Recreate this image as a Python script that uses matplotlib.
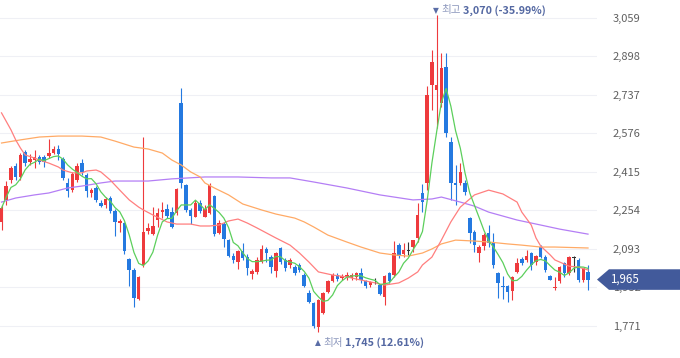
import numpy as np
import pandas as pd
import matplotlib
matplotlib.use("Agg")
import matplotlib.pyplot as plt
from matplotlib.patches import Polygon

plt.rcParams['font.family'] = ['Noto Sans CJK KR', 'DejaVu Sans']

# daily candles (KRW)
opens = [2206, 2298, 2381, 2440, 2394, 2498, 2457, 2465, 2477, 2477,
         2482, 2494, 2511, 2469, 2369, 2339, 2381, 2452, 2402, 2327,
         2348, 2285, 2277, 2306, 2252, 2201, 2201, 2051, 2005, 1883,
         2026, 2168, 2155, 2214, 2247, 2260, 2247, 2243, 2703, 2360,
         2256, 2227, 2285, 2227, 2243, 2314, 2160, 2197, 2130, 2063,
         2038, 2084, 2059, 1988, 1997, 2038, 2093, 2059, 2001, 2097,
         2047, 2026, 2017, 2026, 1984, 1909, 1867, 1767, 1825, 1913,
         1959, 1984, 1971, 1976, 1971, 1976, 1992, 1959, 1942, 1959,
         1942, 1892, 1992, 1984, 2109, 2072, 2088, 2101, 2139, 2327,
         2369, 2779, 2758, 2703, 2854, 2540, 2369, 2369, 2369, 2222,
         2164, 2076, 2105, 2160, 2118, 1992, 1938, 1938, 1917, 1997,
         2051, 2047, 2076, 2038, 2101, 2059, 1980, 1930, 1959, 2034,
         1992, 2059, 2047, 1963, 1997]
highs = [2277, 2377, 2440, 2452, 2494, 2507, 2490, 2507, 2486, 2486,
         2553, 2523, 2528, 2477, 2390, 2415, 2452, 2469, 2411, 2348,
         2356, 2298, 2310, 2314, 2260, 2218, 2206, 2055, 2013, 1980,
         2561, 2201, 2268, 2264, 2289, 2281, 2268, 2348, 2766, 2365,
         2264, 2298, 2298, 2277, 2369, 2319, 2214, 2206, 2135, 2076,
         2088, 2118, 2072, 2009, 2059, 2109, 2101, 2068, 2080, 2101,
         2055, 2055, 2026, 2034, 1992, 1921, 1871, 1883, 1913, 1963,
         1992, 1992, 1988, 1997, 1992, 1997, 2013, 1963, 1959, 1971,
         1946, 1984, 1997, 2126, 2118, 2118, 2122, 2122, 2285, 2365,
         2775, 2925, 3070, 2913, 2913, 2561, 2444, 2452, 2381, 2227,
         2172, 2109, 2160, 2193, 2160, 1997, 1980, 1942, 1980, 2055,
         2059, 2088, 2080, 2068, 2109, 2068, 1984, 1976, 2021, 2038,
         2063, 2063, 2055, 2005, 2026]
lows = [2172, 2277, 2369, 2381, 2381, 2440, 2444, 2431, 2448, 2436,
        2473, 2490, 2465, 2381, 2310, 2331, 2373, 2402, 2310, 2310,
        2289, 2268, 2264, 2243, 2147, 2164, 2072, 1938, 1850, 1879,
        2017, 2155, 2151, 2185, 2222, 2222, 2181, 2235, 2348, 2247,
        2197, 2227, 2243, 2227, 2239, 2147, 2155, 2101, 2059, 2034,
        2009, 2047, 1984, 1967, 1988, 2034, 2038, 1992, 1976, 2030,
        2001, 2013, 1984, 1997, 1934, 1867, 1762, 1745, 1821, 1909,
        1955, 1959, 1963, 1963, 1963, 1963, 1951, 1930, 1934, 1946,
        1900, 1858, 1951, 1976, 2055, 2059, 2068, 2080, 2122, 2247,
        2339, 2674, 2599, 2687, 2561, 2298, 2277, 2360, 2319, 2118,
        2080, 2038, 2088, 2101, 2013, 1888, 1883, 1871, 1879, 1992,
        2026, 2038, 2005, 2026, 2055, 1997, 1963, 1921, 1951, 1976,
        1984, 1997, 1955, 1955, 1921]
closes = [2264, 2356, 2431, 2394, 2486, 2452, 2469, 2477, 2457, 2457,
          2494, 2511, 2490, 2390, 2335, 2406, 2440, 2415, 2335, 2339,
          2298, 2272, 2302, 2252, 2206, 2210, 2084, 2005, 1888, 1976,
          2164, 2181, 2189, 2243, 2256, 2231, 2185, 2344, 2369, 2256,
          2231, 2285, 2252, 2260, 2360, 2155, 2201, 2135, 2063, 2047,
          2084, 2055, 2013, 2001, 2047, 2093, 2076, 2017, 2076, 2038,
          2013, 2047, 1992, 2005, 1938, 1871, 1771, 1879, 1909, 1959,
          1984, 1967, 1980, 1984, 1984, 1992, 1963, 1938, 1955, 1959,
          1904, 1980, 1959, 2076, 2063, 2088, 2088, 2130, 2235, 2289,
          2737, 2875, 2779, 2850, 2578, 2369, 2360, 2415, 2331, 2160,
          2109, 2101, 2151, 2118, 2026, 1951, 1934, 1913, 1976, 2034,
          2034, 2063, 2026, 2063, 2059, 2005, 1963, 1934, 2017, 1992,
          2059, 2059, 1963, 2013, 1965]

# longer moving averages (need history before the window), read at sample days
ma20_idx = [0, 2, 3, 4, 5, 7, 8, 10, 12, 13, 15, 17, 18, 20, 21, 23, 25, 27, 29, 30,
            32, 35, 37, 40, 42, 44, 46, 48, 50, 52, 54, 56, 58, 61, 63, 65, 67, 70, 73, 76,
            79, 81, 84, 86, 88, 89, 91, 93, 95, 97, 100, 103, 106, 109, 110, 112, 113, 114, 116, 117,
            120, 122, 124]
ma20_val = [2662, 2591, 2549, 2515, 2486, 2473, 2465, 2452, 2436, 2423, 2411, 2411, 2419, 2423, 2415, 2381, 2339, 2298, 2268, 2256,
            2235, 2206, 2197, 2197, 2189, 2189, 2193, 2210, 2218, 2201, 2181, 2160, 2139, 2109, 2076, 2038, 1997, 1984, 1976, 1963,
            1951, 1942, 1951, 1971, 1997, 2026, 2059, 2130, 2206, 2268, 2319, 2339, 2323, 2289, 2247, 2193, 2139, 2105, 2068, 2047,
            2021, 2017, 2005]
ma60_idx = [0, 4, 8, 12, 17, 21, 24, 28, 31, 34, 36, 38, 40, 42, 43, 45, 48, 51, 55, 58,
            62, 64, 66, 69, 73, 76, 80, 83, 86, 89, 91, 93, 96, 100, 103, 107, 110, 114, 117, 124]
ma60_val = [2536, 2549, 2561, 2565, 2565, 2561, 2544, 2519, 2511, 2494, 2465, 2444, 2415, 2394, 2369, 2348, 2319, 2281, 2256, 2239,
            2222, 2206, 2185, 2151, 2122, 2101, 2076, 2068, 2063, 2076, 2093, 2114, 2130, 2126, 2122, 2114, 2109, 2101, 2101, 2097]
ma120_idx = [0, 3, 7, 10, 14, 17, 21, 24, 31, 36, 43, 50, 57, 61, 66, 73, 80, 87, 91, 93,
             97, 100, 103, 109, 114, 118, 124]
ma120_val = [2289, 2306, 2319, 2327, 2348, 2356, 2369, 2377, 2377, 2386, 2394, 2394, 2390, 2390, 2373, 2348, 2319, 2298, 2302, 2310,
             2289, 2272, 2247, 2214, 2193, 2176, 2155]

yticks = [1771, 1932, 2093, 2254, 2415, 2576, 2737, 2898, 3059]

RED = '#ee3a3d'
BLUE = '#2479e0'
FLAT = '#333333'

o = np.array(opens)
h = np.array(highs)
l = np.array(lows)
c = np.array(closes)
x = np.arange(len(c))

fig = plt.figure(figsize=(6.8, 3.58), dpi=100)
ax = fig.add_axes([0, 0, 597 / 680, 1])
ax.set_xlim(-0.32, 125.9)
ax.set_ylim(1637, 3134)

cols = np.where(c > o, RED, np.where(c < o, BLUE, FLAT))
ax.vlines(x, l, h, colors=cols, lw=0.8, zorder=3)
body = np.maximum(np.abs(c - o), 4)
bottom = np.where(c == o, o - 2, np.minimum(o, c))
ax.bar(x, body, bottom=bottom, width=0.74, color=cols, linewidth=0, zorder=3)

ma5 = pd.Series(c).rolling(5, min_periods=1).mean()
ax.plot(ma120_idx, ma120_val, color='#b47ef5', lw=0.9, zorder=4)
ax.plot(ma60_idx, ma60_val, color='#ffaa66', lw=0.9, zorder=4)
ax.plot(ma20_idx, ma20_val, color='#ff7f7f', lw=0.9, zorder=4)
ax.plot(x, ma5, color='#5ccf5c', lw=0.9, zorder=4)

ax.set_yticks(yticks)
ax.set_yticklabels([f"{v:,}" for v in yticks])
ax.yaxis.tick_right()
ax.tick_params(axis='y', length=0, pad=11.5, labelsize=8, labelcolor='#606060')
ax.set_xticks([])
ax.grid(axis='y', color='#eff0f5', lw=0.8)
ax.set_axisbelow(True)
for s in ax.spines.values():
    s.set_visible(False)

# high / low markers
last = closes[-1]
imax = int(np.argmax(h))
imin = int(np.argmin(l))
pmax = (last - highs[imax]) / highs[imax] * 100
pmin = (last - lows[imin]) / lows[imin] * 100
xt = ax.get_xaxis_transform()


def marker(idx, ypos, tri, word, value):
    t1 = ax.annotate(tri, xy=(idx, ypos), xycoords=xt, xytext=(-2.6, 0), textcoords='offset points',
                     ha='left', va='center', fontsize=5.5, color='#5a6da6', family='DejaVu Sans',
                     annotation_clip=False)
    t2 = ax.annotate(word, xy=(1, 0.5), xycoords=t1, xytext=(2, 0), textcoords='offset points',
                     ha='left', va='center', fontsize=7.6, color='#8d98bd')
    ax.annotate(value, xy=(1, 0.5), xycoords=t2, xytext=(1.5, 0), textcoords='offset points',
                ha='left', va='center', fontsize=7.8, color='#5468a2', fontweight='bold')


marker(imax, 0.972, '▼', '최고', f"{highs[imax]:,} ({pmax:.2f}%)")
marker(imin, 0.042, '▲', '최저', f"{lows[imin]:,} ({pmin:.2f}%)")

# current price tag (covers most of the nearest tick label, as in the source)
yt = ax.get_yaxis_transform()
hh = 43
tag = Polygon([(1.0, last), (1.0201, last + hh), (1.2, last + hh), (1.2, last - hh), (1.0201, last - hh)],
              closed=True, transform=yt, facecolor='#425a9b', edgecolor='none', clip_on=False, zorder=6)
ax.add_patch(tag)
ax.text(1.0218, last, f"{last:,}", transform=yt, ha='left', va='center', color='white',
        fontsize=8.3, zorder=7)

plt.savefig("out.png", dpi=100)
